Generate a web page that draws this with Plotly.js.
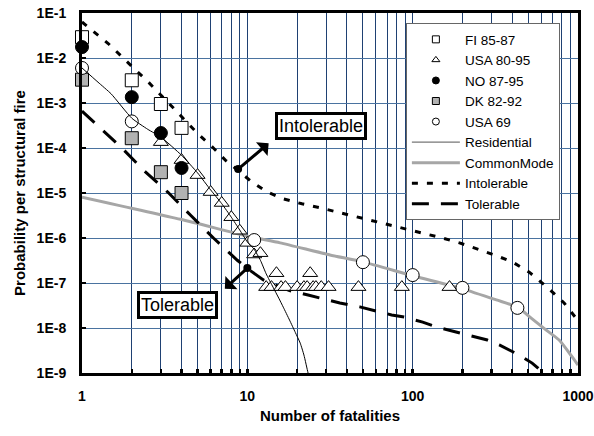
<!DOCTYPE html>
<html><head><meta charset="utf-8">
<script src="https://cdn.plot.ly/plotly-3.0.1.min.js"></script>
<style>html,body{margin:0;padding:0;background:#fff}#chart{width:594px;height:436px}</style>
</head><body><div id="chart"></div>
<script>
// ---- data ----
const fiX = [1, 2, 3, 4];
const fiY = [2.9e-2, 3.2e-3, 9.5e-4, 2.8e-4];

const usa8095X = [3, 4, 5, 6, 7, 8, 9, 10, 11, 12, 13, 14, 15, 16, 17, 20, 22, 23, 24, 25, 26, 28, 31, 47, 86, 167];
const usa8095Y = [1.35e-4, 5.4e-5, 2.5e-5, 1.05e-5, 6.0e-6, 2.9e-6, 1.45e-6, 7.8e-7, 4.3e-7, 4.6e-7,
                  8.1e-8, 8.1e-8, 1.65e-7, 8.1e-8, 8.1e-8, 8.1e-8, 8.1e-8, 8.1e-8, 1.65e-7, 8.1e-8,
                  8.1e-8, 8.1e-8, 8.1e-8, 8.1e-8, 8.1e-8, 8.1e-8];

const noX = [1, 2, 3, 4];
const noY = [1.75e-2, 1.35e-3, 2.15e-4, 3.6e-5];

const dkX = [1, 2, 3, 4];
const dkY = [3.3e-3, 1.65e-4, 2.9e-5, 1.0e-5];

const usa69X = [1, 2, 11, 50, 100, 200, 430];
const usa69Y = [6.0e-3, 3.9e-4, 9.0e-7, 2.9e-7, 1.5e-7, 7.8e-8, 2.8e-8];

const resX = [1, 1.25, 1.5, 2, 2.5, 3, 4, 5, 6, 7, 8, 9, 10, 11, 12, 13, 14.3, 15.5, 16.5, 18, 19.5, 20.9, 22, 23.3, 24];
const resY = [6.0e-3, 2.9e-3, 1.6e-3, 4.6e-4, 2.6e-4, 1.75e-4, 6.9e-5, 2.8e-5, 1.17e-5, 5.8e-6, 2.9e-6, 1.5e-6,
              8.2e-7, 5.6e-7, 3.2e-7, 1.6e-7, 8.1e-8, 4.6e-8, 2.9e-8, 1.5e-8, 8.0e-9, 4.6e-9, 2.5e-9, 1.0e-9, 6.9e-10];

const cmX = [1, 3.95, 10, 15.8, 31.6, 50, 100, 200, 321, 430, 528, 640, 769, 920, 1000];
const cmY = [8.1e-6, 2.6e-6, 1.1e-6, 7.8e-7, 4.2e-7, 2.95e-7, 1.45e-7, 7.4e-8, 4.2e-8, 2.9e-8, 1.6e-8, 9.1e-9, 5.4e-9, 2.3e-9, 1.5e-9];

const intolX = [1, 1.21, 1.44, 2.17, 2.5, 3.68, 5, 6.15, 7.36, 10.7, 13.2, 16.5, 21.4, 27.5, 34.8, 43.6, 56.6, 72.6, 92, 115, 151, 192, 247, 312, 400, 507, 650, 824, 973, 1000];
const intolY = [6.3e-2, 3.6e-2, 2.1e-2, 4.9e-3, 3.0e-3, 6.9e-4, 2.1e-4, 1.05e-4, 5.4e-5, 1.74e-5, 1.05e-5, 7.4e-6, 5.75e-6, 4.7e-6, 3.8e-6, 3.1e-6, 2.4e-6, 1.95e-6, 1.6e-6, 1.3e-6, 1.0e-6, 7.8e-7, 5.75e-7, 4.2e-7, 2.95e-7, 1.74e-7, 8.1e-8, 3.6e-8, 1.66e-8, 1.4e-8];

const tolX = [1, 1.72, 2.36, 3.3, 4.54, 6.24, 8.7, 10, 12.5, 15, 18, 23.3, 30.3, 36.3, 47.9, 56.6, 74.6, 89.5, 115, 140, 184, 214, 283, 334, 442, 528, 697];
const tolY = [6.6e-4, 1.05e-4, 3.2e-5, 1.05e-5, 3.2e-6, 1.0e-6, 3.2e-7, 2.1e-7, 1.17e-7, 8.9e-8, 6.8e-8, 5.4e-8, 4.2e-8, 3.6e-8, 2.95e-8, 2.5e-8, 1.95e-8, 1.74e-8, 1.35e-8, 1.05e-8, 8.1e-9, 6.9e-9, 5.4e-9, 4.2e-9, 2.5e-9, 1.66e-9, 6.9e-10];

// arrow anchor points for the labels
const labelText = ['Intolerable', 'Tolerable'];
const anchorX = [8.8, 10];
const anchorY = [3.4e-5, 2.15e-7];

const xTickVals = [1,2,3,4,5,6,7,8,9,10,20,30,40,50,60,70,80,90,100,200,300,400,500,600,700,800,900,1000];
const xTickText = ['1','','','','','','','','','10','','','','','','','','','100','','','','','','','','','1000'];
const yTickVals = [1e-9,1e-8,1e-7,1e-6,1e-5,1e-4,1e-3,1e-2,1e-1];
const yTickText = ['1E-9','1E-8','1E-7','1E-6','1E-5','1E-4','1E-3','1E-2','1E-1'];

const FONT = 'Liberation Sans, Arial, sans-serif';
const INTOL_DASH = '6px,9px';
const TOL_DASH = '17px,12px';

const traces = [
  // lines
  {x: cmX, y: cmY, mode: 'lines', line: {color: '#A6A6A6', width: 3, shape: 'spline', smoothing: 0.6}, showlegend: false, hoverinfo: 'skip'},
  {x: tolX, y: tolY, mode: 'lines', line: {color: '#000', width: 3, dash: TOL_DASH}, showlegend: false, hoverinfo: 'skip'},
  {x: intolX, y: intolY, mode: 'lines', line: {color: '#000', width: 3, dash: INTOL_DASH}, showlegend: false, hoverinfo: 'skip'},
  // markers
  {x: fiX, y: fiY, mode: 'markers', cliponaxis: false, marker: {symbol: 'square', size: 13, color: '#fff', line: {color: '#000', width: 1}}, showlegend: false},
  {x: usa8095X, y: usa8095Y, mode: 'markers', cliponaxis: false, marker: {symbol: 'triangle-up', size: 13, color: '#fff', line: {color: '#000', width: 1}}, showlegend: false},
  {x: noX, y: noY, mode: 'markers', cliponaxis: false, marker: {symbol: 'circle', size: 13, color: '#000', line: {color: '#000', width: 1}}, showlegend: false},
  {x: dkX, y: dkY, mode: 'markers', cliponaxis: false, marker: {symbol: 'square', size: 13, color: '#B2B2B2', line: {color: '#000', width: 1}}, showlegend: false},
  {x: usa69X, y: usa69Y, mode: 'markers', cliponaxis: false, marker: {symbol: 'circle', size: 13, color: '#fff', line: {color: '#000', width: 1}}, showlegend: false},
  {x: resX, y: resY, mode: 'lines', line: {color: '#000', width: 1, shape: 'spline', smoothing: 0.5}, showlegend: false, hoverinfo: 'skip'},
  {x: anchorX, y: anchorY, mode: 'markers', cliponaxis: false, marker: {symbol: 'circle', size: 8, color: '#000'}, showlegend: false},
  // legend entries
  {x: [null], y: [null], name: 'FI 85-87', mode: 'markers', marker: {symbol: 'square', size: 7, color: '#fff', line: {color: '#000', width: 1}}},
  {x: [null], y: [null], name: 'USA 80-95', mode: 'markers', marker: {symbol: 'triangle-up', size: 7, color: '#fff', line: {color: '#000', width: 1}}},
  {x: [null], y: [null], name: 'NO 87-95', mode: 'markers', marker: {symbol: 'circle', size: 7, color: '#000', line: {color: '#000', width: 1}}},
  {x: [null], y: [null], name: 'DK 82-92', mode: 'markers', marker: {symbol: 'square', size: 7, color: '#B2B2B2', line: {color: '#000', width: 1}}},
  {x: [null], y: [null], name: 'USA 69', mode: 'markers', marker: {symbol: 'circle', size: 7, color: '#fff', line: {color: '#000', width: 1}}},
  {x: [null], y: [null], name: 'Residential', mode: 'lines', line: {color: '#555', width: 1}},
  {x: [null], y: [null], name: 'CommonMode', mode: 'lines', line: {color: '#A6A6A6', width: 3}},
  {x: [null], y: [null], name: 'Intolerable', mode: 'lines', line: {color: '#000', width: 3, dash: INTOL_DASH}},
  {x: [null], y: [null], name: 'Tolerable', mode: 'lines', line: {color: '#000', width: 3, dash: TOL_DASH}}
];

const layout = {
  width: 594, height: 436,
  margin: {l: 82, r: 16, t: 13, b: 63},
  paper_bgcolor: '#fff', plot_bgcolor: '#fff',
  font: {family: FONT, color: '#000'},
  showlegend: true,
  legend: {
    x: 0.653, y: 0.972, xanchor: 'left', yanchor: 'top',
    bgcolor: '#fff', bordercolor: '#666', borderwidth: 1,
    font: {family: FONT, size: 13.5, color: '#000'},
    itemwidth: 48, traceorder: 'normal'
  },
  xaxis: {
    type: 'log', range: [0, 3], autorange: false,
    tickmode: 'array', tickvals: xTickVals, ticktext: xTickText,
    ticks: 'inside', ticklen: 4, tickwidth: 2.5, tickcolor: '#000',
    showgrid: true, gridcolor: '#1F4173', gridwidth: 1,
    showline: true, linecolor: '#000', linewidth: 3, mirror: true,
    zeroline: false, ticklabelstandoff: 8,
    tickfont: {family: FONT, size: 14, color: '#000', weight: 'bold'},
    title: {text: 'Number of fatalities', font: {family: FONT, size: 15, color: '#000', weight: 'bold'}, standoff: 8}
  },
  yaxis: {
    type: 'log', range: [-9, -1], autorange: false,
    tickmode: 'array', tickvals: yTickVals, ticktext: yTickText,
    ticks: 'inside', ticklen: 4, tickwidth: 2.5, tickcolor: '#000',
    showgrid: true, gridcolor: '#4A73A0', gridwidth: 1,
    showline: true, linecolor: '#000', linewidth: 3, mirror: true,
    zeroline: false, ticklabelstandoff: 10,
    tickfont: {family: FONT, size: 14, color: '#000', weight: 'bold'},
    title: {text: 'Probability per structural fire', font: {family: FONT, size: 15, color: '#000', weight: 'bold'}, standoff: 8}
  },
  annotations: [
    {xref: 'paper', yref: 'paper', x: 0.482, y: 0.686, xanchor: 'center', yanchor: 'middle',
     text: labelText[0], showarrow: false, font: {family: FONT, size: 18, color: '#000'},
     bgcolor: '#fff', bordercolor: '#000', borderwidth: 3, borderpad: 1},
    {xref: 'paper', yref: 'paper', x: 0.1925, y: 0.189, xanchor: 'center', yanchor: 'middle',
     text: labelText[1], showarrow: false, font: {family: FONT, size: 18, color: '#000'},
     bgcolor: '#fff', bordercolor: '#000', borderwidth: 3, borderpad: 1},
    {xref: 'x', yref: 'y', x: Math.log10(anchorX[0]), y: Math.log10(anchorY[0]), ax: 32, ay: -27,
     text: '', showarrow: true, arrowside: 'start', arrowhead: 2, arrowsize: 1, arrowwidth: 3, arrowcolor: '#000', standoff: 0, startstandoff: 0},
    {xref: 'x', yref: 'y', x: Math.log10(anchorX[1]), y: Math.log10(anchorY[1]), ax: -24, ay: 22,
     text: '', showarrow: true, arrowside: 'start', arrowhead: 2, arrowsize: 1, arrowwidth: 3, arrowcolor: '#000', standoff: 0, startstandoff: 0}
  ]
};

Plotly.newPlot('chart', traces, layout, {displayModeBar: false, staticPlot: true});
</script>
</body></html>
